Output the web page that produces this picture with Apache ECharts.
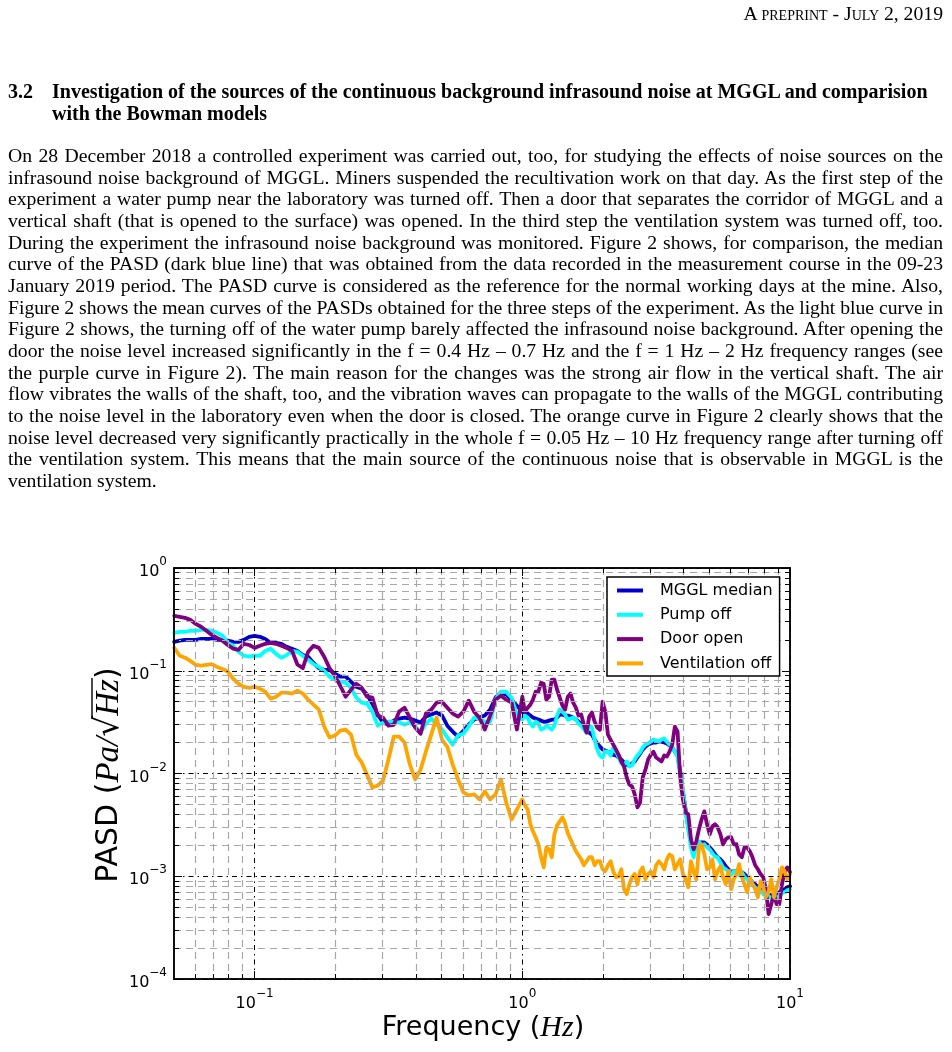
<!DOCTYPE html>
<html><head><meta charset="utf-8">
<script src="https://cdn.jsdelivr.net/npm/echarts@6/dist/echarts.min.js"></script>
<style>
html,body{margin:0;padding:0;background:#fff;width:952px;height:1052px;overflow:hidden;}
#chart{position:absolute;left:0;top:0;width:952px;height:1052px;}
.txt{position:absolute;font-family:"Liberation Serif","Times New Roman",serif;color:#000;z-index:2;}
#hdr{right:9px;top:2px;font-size:19.7px;font-variant:small-caps;line-height:22px;white-space:nowrap;}
.hd{font-weight:bold;font-size:20px;line-height:22px;white-space:nowrap;}
#para{left:8px;top:145px;width:935px;font-size:19.7px;line-height:21.67px;}
#para div{text-align:justify;text-align-last:justify;white-space:nowrap;}
#para div.last{text-align-last:left;}
</style></head>
<body>
<div id="chart"></div>
<div id="hdr" class="txt">A preprint - July 2, 2019</div>
<div class="txt hd" style="left:8px;top:80px;">3.2</div>
<div class="txt hd" style="left:52px;top:80px;">Investigation of the sources of the continuous background infrasound noise at MGGL and comparision<br>with the Bowman models</div>
<div id="para" class="txt">
<div>On 28 December 2018 a controlled experiment was carried out, too, for studying the effects of noise sources on the</div>
<div>infrasound noise background of MGGL. Miners suspended the recultivation work on that day. As the first step of the</div>
<div>experiment a water pump near the laboratory was turned off. Then a door that separates the corridor of MGGL and a</div>
<div>vertical shaft (that is opened to the surface) was opened. In the third step the ventilation system was turned off, too.</div>
<div>During the experiment the infrasound noise background was monitored. Figure 2 shows, for comparison, the median</div>
<div>curve of the PASD (dark blue line) that was obtained from the data recorded in the measurement course in the 09-23</div>
<div>January 2019 period. The PASD curve is considered as the reference for the normal working days at the mine. Also,</div>
<div>Figure 2 shows the mean curves of the PASDs obtained for the three steps of the experiment. As the light blue curve in</div>
<div>Figure 2 shows, the turning off of the water pump barely affected the infrasound noise background. After opening the</div>
<div>door the noise level increased significantly in the f = 0.4 Hz – 0.7 Hz and the f = 1 Hz – 2 Hz frequency ranges (see</div>
<div>the purple curve in Figure 2). The main reason for the changes was the strong air flow in the vertical shaft. The air</div>
<div>flow vibrates the walls of the shaft, too, and the vibration waves can propagate to the walls of the MGGL contributing</div>
<div>to the noise level in the laboratory even when the door is closed. The orange curve in Figure 2 clearly shows that the</div>
<div>noise level decreased very significantly practically in the whole f = 0.05 Hz – 10 Hz frequency range after turning off</div>
<div>the ventilation system. This means that the main source of the continuous noise that is observable in MGGL is the</div>
<div class="last">ventilation system.</div>
</div>
<script>
// ---- data (frequency in Hz, PASD in Pa/sqrt(Hz)) ----
const freq = [
0.0501,0.0525,0.0550,0.0575,0.0603,0.0631,0.0661,0.0692,0.0724,0.0759,
0.0794,0.0832,0.0871,0.0912,0.0955,0.1000,0.1047,0.1096,0.1148,0.1202,
0.1259,0.1318,0.1380,0.1445,0.1514,0.1585,0.1660,0.1738,0.1820,0.1905,
0.1995,0.2089,0.2188,0.2291,0.2399,0.2512,0.2630,0.2754,0.2884,0.3020,
0.3162,0.3311,0.3467,0.3631,0.3802,0.3981,0.4169,0.4365,0.4571,0.4786,
0.5012,0.5248,0.5495,0.5754,0.6026,0.6310,0.6607,0.6918,0.7244,0.7586,
0.7943,0.8318,0.8710,0.9120,0.9550,1.000,1.047,1.096,1.148,1.202,
1.259,1.318,1.380,1.445,1.514,1.585,1.660,1.738,1.820,1.905,
1.995,2.089,2.188,2.291,2.399,2.512,2.630,2.754,2.884,3.020,
3.162,3.311,3.467,3.631,3.802,3.981,4.169,4.365,4.571,4.786,
5.012,5.248,5.495,5.754,6.026,6.310,6.607,6.918,7.244,7.586,
7.943,8.318,8.710,9.120,9.550,10.00];

const mgglMedian = [
0.191,0.196,0.200,0.200,0.200,0.204,0.204,0.204,0.200,0.200,
0.196,0.191,0.191,0.200,0.214,0.219,0.214,0.204,0.187,0.187,
0.183,0.171,0.164,0.156,0.142,0.137,0.119,0.106,0.102,0.102,
0.0935,0.0875,0.0875,0.0782,0.0698,0.0667,0.0586,0.0478,0.0375,0.0313,
0.0299,0.0327,0.0342,0.0350,0.0342,0.0327,0.0313,0.0358,0.0375,0.0392,
0.0367,0.0292,0.0256,0.0229,0.0261,0.0299,0.0335,0.0350,0.0367,0.0419,
0.0547,0.0612,0.0586,0.0523,0.0457,0.0400,0.0383,0.0350,0.0335,0.0319,
0.0327,0.0335,0.0375,0.0367,0.0358,0.0335,0.0299,0.0261,0.0239,0.0196,
0.0171,0.0163,0.0152,0.0143,0.0128,0.0119,0.0131,0.0156,0.0182,0.0196,
0.0200,0.0204,0.0196,0.0179,0.0149,0.00669,0.00299,0.00175,0.00213,0.00213,
0.00191,0.00164,0.00146,0.00125,0.00110,0.00111,0.00110,0.00098,0.000875,0.000782,
0.000714,0.000668,0.000639,0.000699,0.000748,0.000800];

const pumpOff = [
0.234,0.239,0.239,0.245,0.245,0.250,0.250,0.245,0.234,0.219,
0.187,0.175,0.153,0.140,0.137,0.140,0.140,0.156,0.164,0.146,
0.134,0.142,0.156,0.153,0.140,0.128,0.116,0.109,0.100,0.0875,
0.0817,0.0782,0.0764,0.0682,0.0547,0.0489,0.0478,0.0400,0.0292,0.0313,
0.0319,0.0319,0.0313,0.0299,0.0313,0.0286,0.0250,0.0306,0.0342,0.0299,
0.0268,0.0224,0.0191,0.0234,0.0244,0.0286,0.0350,0.0342,0.0319,0.0319,
0.0523,0.0626,0.0626,0.0547,0.0375,0.0335,0.0350,0.0286,0.0306,0.0274,
0.0280,0.0292,0.0419,0.0375,0.0342,0.0335,0.0292,0.0250,0.0280,0.0171,
0.0143,0.0163,0.0179,0.0143,0.0122,0.0117,0.0137,0.0160,0.0191,0.0204,
0.0209,0.0214,0.0204,0.0179,0.0146,0.00699,0.00287,0.00153,0.00218,0.00205,
0.00183,0.00156,0.00136,0.00117,0.00103,0.00111,0.00110,0.000936,0.000837,0.000748,
0.000668,0.000639,0.000598,0.000639,0.000699,0.000748];

const doorOpen = [
0.342,0.335,0.327,0.313,0.286,0.268,0.245,0.223,0.209,0.196,
0.178,0.164,0.160,0.183,0.178,0.167,0.175,0.183,0.187,0.183,
0.175,0.167,0.156,0.115,0.106,0.153,0.175,0.167,0.137,0.106,
0.0894,0.0714,0.0559,0.0652,0.0747,0.0682,0.0559,0.0547,0.0366,0.0349,
0.0292,0.0298,0.0400,0.0437,0.0349,0.0280,0.0244,0.0383,0.0419,0.0489,
0.0500,0.0437,0.0383,0.0358,0.0400,0.0512,0.0400,0.0349,0.0268,0.0366,
0.0523,0.0572,0.0523,0.0489,0.0268,0.0559,0.0437,0.0523,0.0626,0.0747,
0.0559,0.0817,0.0547,0.0419,0.0599,0.0437,0.0375,0.0250,0.0392,0.0280,
0.0500,0.0239,0.0191,0.0152,0.0117,0.00782,0.00625,0.00522,0.0109,0.0152,
0.0143,0.0131,0.0146,0.0191,0.0256,0.00559,0.00400,0.00183,0.00287,0.00428,
0.00256,0.00320,0.00256,0.00229,0.00240,0.00205,0.00153,0.00191,0.00153,0.00117,
0.00098,0.000428,0.000668,0.000535,0.00111,0.00110];

const ventilationOff = [
0.167,0.140,0.134,0.125,0.114,0.112,0.114,0.116,0.109,0.104,
0.0982,0.0836,0.0747,0.0698,0.0682,0.0698,0.0667,0.0626,0.0535,0.0559,
0.0612,0.0612,0.0599,0.0640,0.0599,0.0523,0.0467,0.0419,0.0286,0.0224,
0.0234,0.0261,0.0268,0.0239,0.0152,0.0128,0.00975,0.00731,0.00765,0.00855,
0.0137,0.0229,0.0229,0.0200,0.0122,0.00875,0.0109,0.0164,0.0239,0.0350,
0.0214,0.0182,0.0122,0.00875,0.00654,0.00612,0.00625,0.00559,0.00669,0.00559,
0.00625,0.00875,0.00522,0.00357,0.00447,0.00559,0.00447,0.00274,0.00205,0.00122,
0.00183,0.00256,0.00342,0.00327,0.00229,0.00175,0.00146,0.00140,0.00153,0.00140,
0.00117,0.00128,0.00111,0.000998,0.000748,0.000837,0.00105,0.00111,0.000936,0.00111,
0.00128,0.00131,0.00146,0.00156,0.00131,0.00105,0.000782,0.00111,0.00191,0.00164,
0.00122,0.000936,0.00125,0.000837,0.000748,0.00105,0.00098,0.000699,0.000837,0.000625,
0.000782,0.000699,0.000625,0.000936,0.00111,0.00105];

// extra readings between the grid points above 1 Hz, where the spectra are noisy
const freqFine = [
1.023,1.072,1.122,1.175,1.230,1.288,1.349,1.413,1.479,1.549,
1.622,1.698,1.778,1.862,1.950,2.042,2.138,2.239,2.344,2.455,
2.570,2.692,2.818,2.951,3.090,3.236,3.388,3.548,3.715,3.890,
4.074,4.266,4.467,4.677,4.898,5.129,5.370,5.623,5.888,6.166,
6.457,6.761,7.079,7.413,7.762,8.128,8.511,8.913,9.333,9.772];

const mgglMedianFine = [
0.0391,0.0366,0.0342,0.0327,0.0320,0.0334,0.0350,0.0374,0.0366,0.0350,
0.0320,0.0280,0.0250,0.0214,0.0183,0.0167,0.0160,0.0150,0.0137,0.0122,
0.0125,0.0143,0.0171,0.0191,0.0200,0.0204,0.0200,0.0187,0.0164,0.0105,
0.00447,0.00219,0.00191,0.00214,0.00204,0.00179,0.00153,0.00137,0.00117,0.00112,
0.00112,0.00105,0.000935,0.000836,0.000748,0.000699,0.000654,0.000669,0.000731,0.000782];

const pumpOffFine = [
0.0366,0.0306,0.0320,0.0268,0.0292,0.0268,0.0366,0.0400,0.0334,0.0350,
0.0306,0.0268,0.0292,0.0214,0.0150,0.0164,0.0150,0.0164,0.0125,0.0131,
0.0120,0.0150,0.0179,0.0196,0.0214,0.0204,0.0219,0.0191,0.0164,0.00978,
0.00428,0.00191,0.00200,0.00200,0.00191,0.00167,0.00153,0.00122,0.00112,0.00112,
0.00102,0.000978,0.000855,0.000782,0.000715,0.000654,0.000612,0.000625,0.000684,0.000731];

const doorOpenFine = [
0.0399,0.0468,0.0625,0.0765,0.0523,0.0818,0.0654,0.0458,0.0559,0.0489,
0.0366,0.0299,0.0358,0.0320,0.0267,0.0399,0.0213,0.0171,0.0131,0.00915,
0.00748,0.00468,0.00915,0.0137,0.0163,0.0137,0.0150,0.0163,0.0286,0.00915,
0.00418,0.00229,0.00219,0.00358,0.00320,0.00306,0.00299,0.00204,0.00239,0.00204,
0.00163,0.00191,0.00175,0.00128,0.00105,0.000748,0.000535,0.000535,0.000836,0.00122];

const ventilationOffFine = [
0.00489,0.00320,0.00239,0.00153,0.00191,0.00153,0.00313,0.00374,0.00262,0.00200,
0.00160,0.00128,0.00153,0.00128,0.00140,0.00112,0.00140,0.000978,0.00117,0.000669,
0.000978,0.000836,0.00122,0.00105,0.000978,0.00140,0.00117,0.00163,0.00117,0.00146,
0.000935,0.00140,0.000935,0.00204,0.00117,0.00146,0.00112,0.000978,0.00112,0.000935,
0.00131,0.000836,0.000978,0.000748,0.000894,0.000625,0.000935,0.000782,0.00122,0.000935];

const seriesNames = ['MGGL median','Pump off','Door open','Ventilation off'];
const seriesData = [mgglMedian, pumpOff, doorOpen, ventilationOff];
const seriesFine = [mgglMedianFine, pumpOffFine, doorOpenFine, ventilationOffFine];
const seriesColors = ['#0000cd','#00ffff','#800080','#ffa500'];

const xMajorTicks = [0.1, 1, 10];
const xMinorTicks = [0.06,0.07,0.08,0.09,0.2,0.3,0.4,0.5,0.6,0.7,0.8,0.9,2,3,4,5,6,7,8,9];
const yMajorTicks = [0.0001,0.001,0.01,0.1,1];
const yMinorTicks = [0.0002,0.0003,0.0004,0.0005,0.0006,0.0007,0.0008,0.0009,
  0.002,0.003,0.004,0.005,0.006,0.007,0.008,0.009,
  0.02,0.03,0.04,0.05,0.06,0.07,0.08,0.09,
  0.2,0.3,0.4,0.5,0.6,0.7,0.8,0.9];
const xRange = [0.05, 10];
const yRange = [0.0001, 1];

// ---- chart ----
const chart = echarts.init(document.getElementById('chart'), null, {renderer:'canvas'});

function powLabel(v){
  const e = Math.round(Math.log10(v));
  return '{b|10}{s|' + (e < 0 ? '\u2212' + (-e) : String(e)) + '}';
}
const labelRich = {
  b:{fontFamily:'DejaVu Sans', fontSize:16, lineHeight:24, verticalAlign:'bottom', color:'#000'},
  s:{fontFamily:'DejaVu Sans', fontSize:12, lineHeight:12, verticalAlign:'top', color:'#000'}
};
const majorSplit = {color:'#000', width:1, type:[5,4,1.5,4]};
const minorSplit = {color:'#a8a8a8', width:1.2, type:[7,5]};

function mkAxis(dim, pos, ticks, tickLen, withLabel, split){
  const r = dim === 'x' ? xRange : yRange;
  return {
    type:'log', logBase:10, min:r[0], max:r[1], position:pos, z:4, silent:true,
    axisLine:{show:true, onZero:false, lineStyle:{color:'#000', width:1.5}},
    axisTick:{show:true, inside:true, length:tickLen, customValues:ticks, lineStyle:{color:'#000', width:1}},
    axisLabel: withLabel ? {show:true, customValues:ticks, formatter:powLabel, rich:labelRich,
                 margin: dim === 'x' ? 9 : 7, color:'#000'} : {show:false},
    splitLine: split ? {show:true, lineStyle:split} : {show:false},
    minorTick:{show:false}, minorSplitLine:{show:false}, axisPointer:{show:false}
  };
}

function seriesPoints(i){
  const pts = freq.map((f,j)=>[f, seriesData[i][j]])
    .concat(freqFine.map((f,j)=>[f, seriesFine[i][j]]));
  pts.sort((a,b)=>a[0]-b[0]);
  return pts;
}

// y-title parts measured for placing the radical overline
const mctx = document.createElement('canvas').getContext('2d');
function tw(font, s){ mctx.font = font; return mctx.measureText(s).width; }
const fSans = '30px "DejaVu Sans"';
const fMath = 'italic 33px "Liberation Serif"';
const fRad = '33px "DejaVu Serif"';
const yParts = [['PASD (', fSans], ['Pa/', fMath], ['\u221A', fRad], ['Hz', fMath], [')', fSans]];
const yW = yParts.map(p => tw(p[1], p[0]));
const yTotal = yW.reduce((a,b)=>a+b, 0);
let cx = -yTotal/2;
const yChildren = [];
const starts = [];
yParts.forEach((p,i)=>{
  starts.push(cx);
  yChildren.push({type:'text', x:cx, y:0, style:{text:p[0], font:p[1], fill:'#000', align:'left', verticalAlign:'middle'}});
  cx += yW[i];
});
yChildren.push({type:'line', shape:{x1:starts[2] + yW[2]*0.85, y1:-17, x2:starts[3] + yW[3] + 1, y2:-17},
  style:{stroke:'#000', lineWidth:1.4}});

const option = {
  animation:false,
  backgroundColor:'transparent',
  textStyle:{fontFamily:'DejaVu Sans'},
  grid:{left:174, top:568, width:616, height:411, containLabel:false, outerBoundsMode:'none', show:false},
  xAxis:[
    mkAxis('x','bottom', xMajorTicks, 8, true, majorSplit),
    mkAxis('x','bottom', xMinorTicks, 5, false, minorSplit),
    mkAxis('x','top', xMajorTicks, 8, false, null),
    mkAxis('x','top', xMinorTicks, 5, false, null)
  ],
  yAxis:[
    mkAxis('y','left', yMajorTicks, 8, true, majorSplit),
    mkAxis('y','left', yMinorTicks, 5, false, minorSplit),
    mkAxis('y','right', yMajorTicks, 8, false, null),
    mkAxis('y','right', yMinorTicks, 5, false, null)
  ],
  legend:{
    show:true, orient:'vertical', left:607, top:577, data:seriesNames, icon:'rect',
    itemWidth:26, itemHeight:4, itemGap:5.3, padding:[4,7,3,10],
    backgroundColor:'#fff', borderColor:'#000', borderWidth:1.5, borderRadius:0,
    selectedMode:false, z:10,
    textStyle:{fontFamily:'DejaVu Sans', fontSize:16, color:'#000', lineHeight:19, padding:[0,0,0,12]}
  },
  series: seriesNames.map((name,i)=>({
    name, type:'line', xAxisIndex:0, yAxisIndex:0,
    data: seriesPoints(i),
    showSymbol:false, symbol:'none', silent:true, z:2 + i*0.01,
    lineStyle:{width:3.8, color:seriesColors[i], join:'round', cap:'round'},
    itemStyle:{color:seriesColors[i]}
  })),
  graphic:[
    {type:'text', x:483, y:1028, z:10, style:{
      text:'{a|Frequency (}{m|Hz}{a|)}', align:'center', verticalAlign:'middle', fill:'#000',
      rich:{a:{fontFamily:'DejaVu Sans', fontSize:27, fill:'#000'},
            m:{fontFamily:'Liberation Serif', fontStyle:'italic', fontSize:30, fill:'#000'}}}},
    {type:'group', x:109, y:775, rotation:Math.PI/2, z:10, children:yChildren}
  ]
};
chart.setOption(option);
</script>
</body></html>
